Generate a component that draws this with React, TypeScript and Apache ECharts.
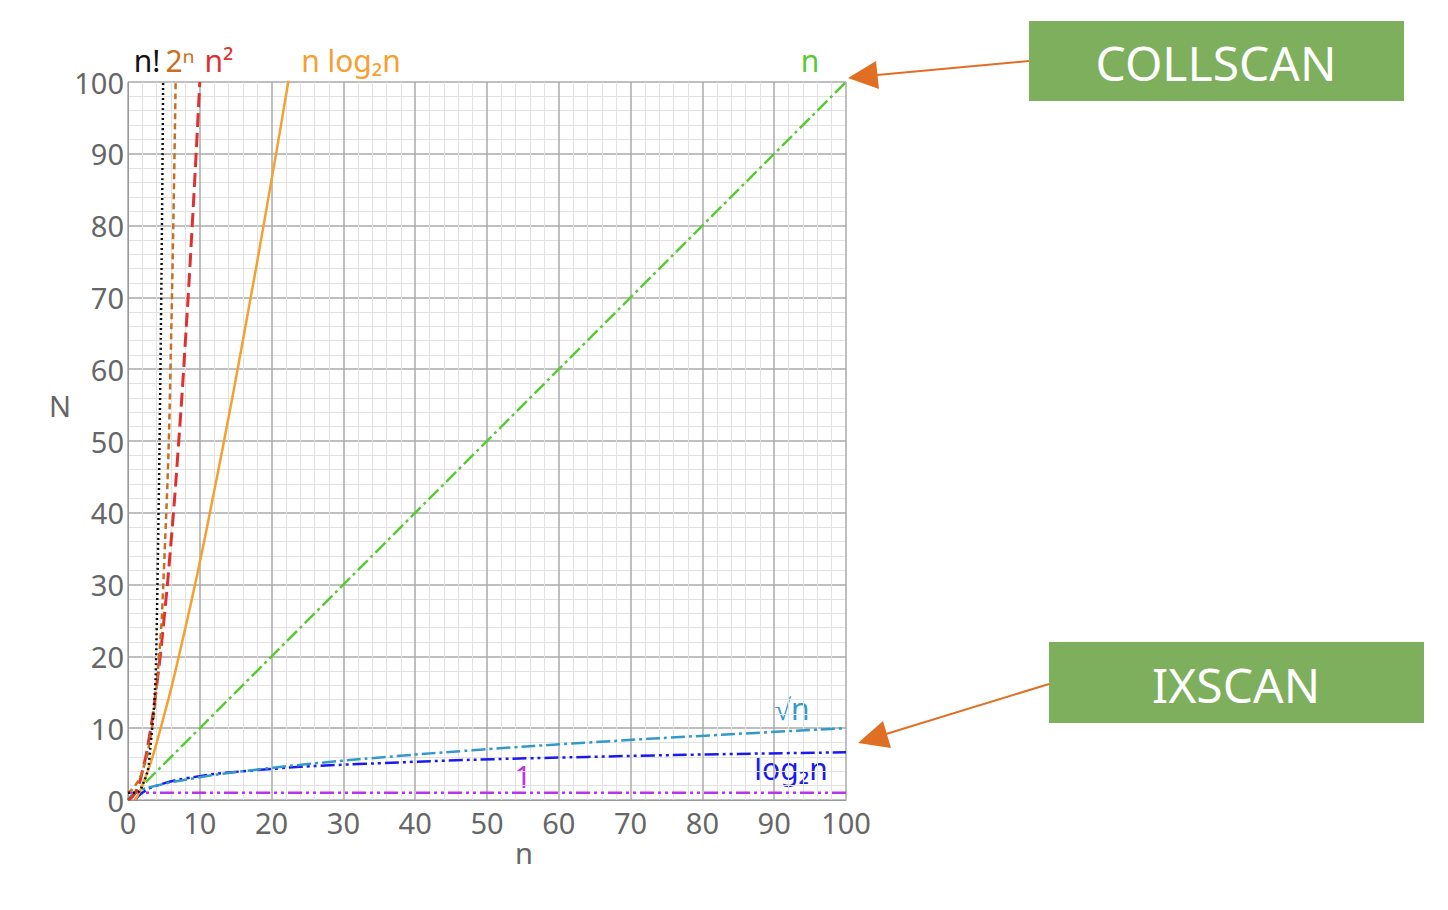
import { useEffect, useRef } from 'react'
import * as echarts from 'echarts'

const factorial = [[0, 1], [1, 1], [2, 2], [3, 6], [4, 24], [5, 120]]
const exp2 = [[0, 1], [1, 2], [2, 4], [3, 8], [4, 16], [5, 32], [6, 64], [7, 128]]
const square = [[0, 0], [1, 1], [2, 4], [3, 9], [4, 16], [5, 25], [6, 36], [7, 49], [8, 64], [9, 81], [10, 100]]
const nlogn = [[1, 0], [2, 2], [4, 8], [8, 24], [12, 43], [16, 64], [20, 86.4], [22, 98.1], [23, 104]]
const linear = [[0, 0], [100, 100]]
const sqrtn = [[0, 0], [1, 1], [4, 2], [9, 3], [16, 4], [25, 5], [36, 6], [49, 7], [64, 8], [81, 9], [100, 10]]
const log2n = [[1, 0], [2, 1], [4, 2], [8, 3], [16, 4], [32, 5], [64, 6], [100, 6.64]]
const constant = [[0, 1], [100, 1]]

const FONT = 'Noto Sans'

export default function App() {
  const chartRef = useRef<HTMLDivElement>(null)

  useEffect(() => {
    if (!chartRef.current) return
    const chart = echarts.init(chartRef.current, null, { renderer: 'svg' })

    const line = (name: string, data: number[][], color: string, type: any, width = 2.5, smooth = false) => ({
      name,
      type: 'line',
      data,
      symbol: 'none',
      smooth,
      clip: true,
      lineStyle: { color, type, width }
    })

    const label = (text: string, x: number, y: number, color: string, size = 30) => ({
      type: 'text',
      x,
      y,
      style: { text, fill: color, font: `${size}px "${FONT}"`, textAlign: 'center', textVerticalAlign: 'middle' }
    })

    const axisCommon = {
      type: 'value',
      min: 0,
      max: 100,
      interval: 10,
      axisLine: { show: true, lineStyle: { color: '#999' } },
      axisTick: { show: false },
      splitLine: { show: true, lineStyle: { color: '#aaa', width: 1.5 } },
      minorTick: { show: false, splitNumber: 5 },
      minorSplitLine: { show: true, lineStyle: { color: '#e2e2e2', width: 1 } }
    }

    const option: any = {
      animation: false,
      backgroundColor: '#fff',
      grid: { left: 128, top: 82, width: 718, height: 718 },
      xAxis: {
        ...axisCommon,
        axisLabel: { fontSize: 29, color: '#666', fontFamily: FONT, margin: 8 }
      },
      yAxis: {
        ...axisCommon,
        axisLabel: { fontSize: 29, color: '#666', fontFamily: FONT, margin: 4 }
      },
      series: [
        line('1', constant, '#bb33ee', [14, 4, 3, 4, 3, 4]),
        line('log2n', log2n, '#1a1aee', [14, 4, 3, 4, 3, 4], 2.5, true),
        line('sqrtn', sqrtn, '#3399cc', [14, 4, 3, 4], 2.5, true),
        line('n', linear, '#55cc33', [14, 4, 3, 4]),
        line('nlogn', nlogn, '#f5a030', 'solid', 2.5, true),
        line('n2', square, '#e03030', [14, 6], 3, true),
        line('2n', exp2, '#c87020', [6, 4], 2.5, true),
        line('n!', factorial, '#111', [2, 3], 2.5, true)
      ],
      graphic: [
        label('N', 60, 405, '#666', 29),
        label('n', 524, 852, '#666', 29),
        label('n!', 147, 60, '#111'),
        label('2ⁿ', 180, 60, '#c87020'),
        label('n²', 219, 60, '#e03030'),
        label('n log₂n', 351, 60, '#f5a030'),
        label('n', 810, 60, '#55cc33'),
        label('√n', 792, 708, '#3399cc'),
        label('log₂n', 791, 768, '#1a1aee'),
        label('1', 523, 776, '#bb33ee'),
        { type: 'rect', shape: { x: 1029, y: 21, width: 375, height: 80 }, style: { fill: '#7daf5c' } },
        label('COLLSCAN', 1216, 62, '#fff', 48),
        { type: 'rect', shape: { x: 1049, y: 642, width: 375, height: 81 }, style: { fill: '#7daf5c' } },
        label('IXSCAN', 1236, 684, '#fff', 48),
        { type: 'line', shape: { x1: 1029, y1: 61, x2: 877, y2: 75 }, style: { stroke: '#e06f24', lineWidth: 2 } },
        { type: 'polygon', shape: { points: [[848, 78], [879, 89], [876, 61]] }, style: { fill: '#e06f24' } },
        { type: 'line', shape: { x1: 1049, y1: 684, x2: 886, y2: 734 }, style: { stroke: '#e06f24', lineWidth: 2 } },
        { type: 'polygon', shape: { points: [[858, 743], [891, 748], [883, 721]] }, style: { fill: '#e06f24' } }
      ]
    }

    chart.setOption(option)
    return () => chart.dispose()
  }, [])

  return (
    <div
      ref={chartRef}
      style={{ position: 'fixed', left: 0, top: 0, width: '1448px', height: '910px' }}
    />
  )
}
